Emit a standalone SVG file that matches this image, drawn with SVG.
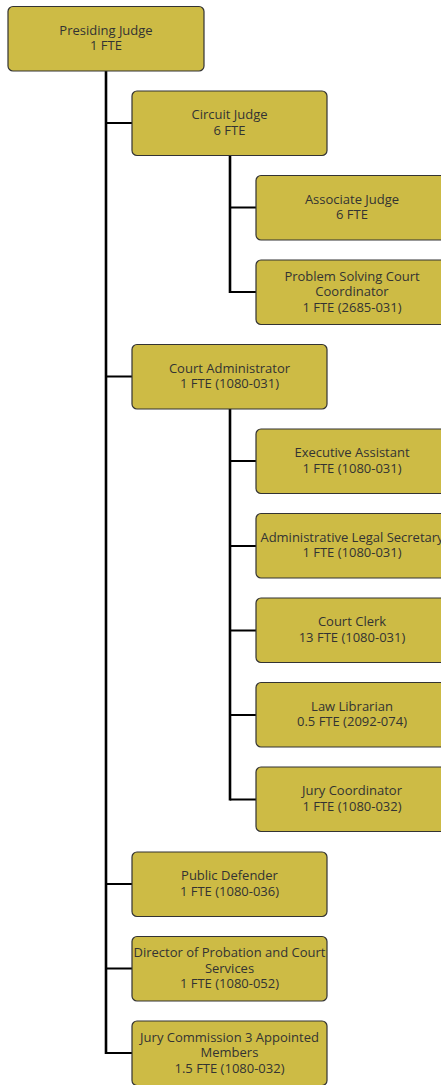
<svg xmlns="http://www.w3.org/2000/svg" width="441" height="1085" viewBox="0 0 441 1085">
<style>
.box{fill:#CDBB45;stroke:#333;stroke-width:1.2}
.t{font-family:"Open Sans","Noto Sans",sans-serif;font-size:13px;fill:#333;text-anchor:middle}
.c{stroke:#000;stroke-width:2;fill:none}
.v{stroke:#000;stroke-width:2.6;fill:none}
</style>
<rect width="441" height="1085" fill="#fff"/>
<g id="connectors">
<path class="c" d="M106 123H132M106 376.5H132M106 884H132M106 968.5H132M106 1053H132"/>
<path class="c" d="M230 207.5H256M230 292H256"/>
<path class="c" d="M230 461H256M230 546H256M230 630.5H256M230 715H256M230 799.5H256"/>
<path class="v" d="M106 71V1054M230 155V293M230 409V800.5"/>
</g>
<g id="presiding-judge"><rect class="box" x="8" y="6.5" width="196" height="64.5" rx="5"/><text class="t" x="106" y="34.5">Presiding Judge</text><text class="t" x="106" y="50">1 FTE</text></g>
<g id="circuit-judge"><rect class="box" x="132" y="91" width="195" height="64.5" rx="5"/><text class="t" x="229.5" y="119">Circuit Judge</text><text class="t" x="229.5" y="134.5">6 FTE</text></g>
<g id="associate-judge"><rect class="box" x="256" y="175.5" width="195" height="64.5" rx="5"/><text class="t" x="352" y="203.5">Associate Judge</text><text class="t" x="352" y="219">6 FTE</text></g>
<g id="problem-solving"><rect class="box" x="256" y="260" width="195" height="64.5" rx="5"/><text class="t" x="352" y="280.5">Problem Solving Court</text><text class="t" x="352" y="296">Coordinator</text><text class="t" x="352" y="311.5">1 FTE (2685-031)</text></g>
<g id="court-administrator"><rect class="box" x="132" y="344.5" width="195" height="64.5" rx="5"/><text class="t" x="229.5" y="372.5">Court Administrator</text><text class="t" x="229.5" y="388">1 FTE (1080-031)</text></g>
<g id="executive-assistant"><rect class="box" x="256" y="429" width="195" height="64.5" rx="5"/><text class="t" x="352" y="457">Executive Assistant</text><text class="t" x="352" y="472.5">1 FTE (1080-031)</text></g>
<g id="admin-legal-secretary"><rect class="box" x="256" y="513.5" width="195" height="64.5" rx="5"/><text class="t" x="352" y="541.5">Administrative Legal Secretary</text><text class="t" x="352" y="557">1 FTE (1080-031)</text></g>
<g id="court-clerk"><rect class="box" x="256" y="598" width="195" height="64.5" rx="5"/><text class="t" x="352" y="626">Court Clerk</text><text class="t" x="352" y="641.5">13 FTE (1080-031)</text></g>
<g id="law-librarian"><rect class="box" x="256" y="682.5" width="195" height="64.5" rx="5"/><text class="t" x="352" y="710.5">Law Librarian</text><text class="t" x="352" y="726">0.5 FTE (2092-074)</text></g>
<g id="jury-coordinator"><rect class="box" x="256" y="767" width="195" height="64.5" rx="5"/><text class="t" x="352" y="795">Jury Coordinator</text><text class="t" x="352" y="810.5">1 FTE (1080-032)</text></g>
<g id="public-defender"><rect class="box" x="132" y="852" width="195" height="64.5" rx="5"/><text class="t" x="229.5" y="880">Public Defender</text><text class="t" x="229.5" y="895.5">1 FTE (1080-036)</text></g>
<g id="director-probation"><rect class="box" x="132" y="936.5" width="195" height="64.5" rx="5"/><text class="t" x="229.5" y="957">Director of Probation and Court</text><text class="t" x="229.5" y="972.5">Services</text><text class="t" x="229.5" y="988">1 FTE (1080-052)</text></g>
<g id="jury-commission"><rect class="box" x="132" y="1021" width="195" height="64.5" rx="5"/><text class="t" x="229.5" y="1041.5">Jury Commission 3 Appointed</text><text class="t" x="229.5" y="1057">Members</text><text class="t" x="229.5" y="1072.5">1.5 FTE (1080-032)</text></g>
</svg>
